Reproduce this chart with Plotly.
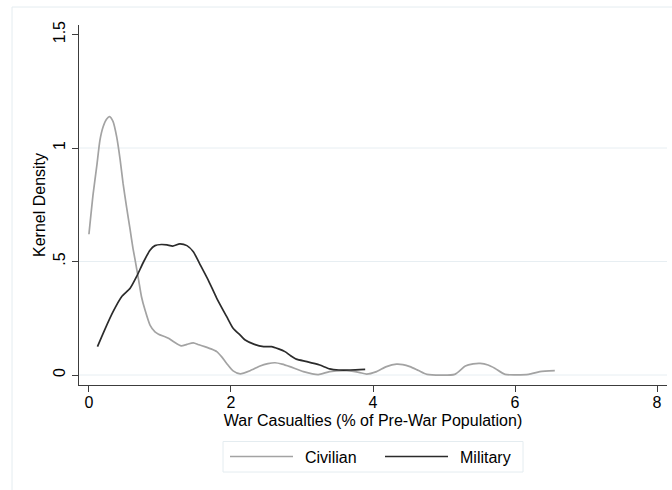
import plotly.graph_objects as go

# Kernel density estimates of war casualties (% of pre-war population)
civilian_x = [0.00, 0.06, 0.11, 0.155, 0.20, 0.25, 0.29, 0.34, 0.39, 0.44, 0.48, 0.53,
              0.58, 0.62, 0.65, 0.70, 0.74, 0.79, 0.86, 0.93, 0.98, 1.12, 1.20, 1.30,
              1.38, 1.47, 1.55, 1.63, 1.72, 1.80, 1.87, 1.94, 2.03, 2.13, 2.27, 2.41,
              2.52, 2.62, 2.72, 2.83, 3.02, 3.23, 3.39, 3.63, 3.80, 3.91, 4.05, 4.19,
              4.33, 4.42, 4.52, 4.64, 4.76, 5.15, 5.30, 5.41, 5.51, 5.62, 5.72, 5.86,
              6.19, 6.35, 6.56]
civilian_y = [0.62, 0.80, 0.92, 1.035, 1.094, 1.128, 1.138, 1.116, 1.05, 0.947, 0.845, 0.74,
              0.64, 0.558, 0.507, 0.418, 0.345, 0.286, 0.22, 0.19, 0.18, 0.162, 0.145, 0.128,
              0.135, 0.142, 0.133, 0.125, 0.115, 0.103, 0.08, 0.051, 0.018, 0.005, 0.019, 0.040,
              0.050, 0.054, 0.048, 0.037, 0.015, 0.002, 0.015, 0.019, 0.012, 0.004, 0.015, 0.037,
              0.048, 0.046, 0.037, 0.02, 0.003, 0.003, 0.040, 0.049, 0.051, 0.044, 0.029, 0.003,
              0.003, 0.015, 0.019]

military_x = [0.12, 0.22, 0.34, 0.46, 0.58, 0.67, 0.77, 0.86, 0.93, 1.02, 1.10, 1.18,
              1.28, 1.38, 1.47, 1.56, 1.68, 1.80, 1.94, 2.03, 2.13, 2.20, 2.33, 2.46,
              2.57, 2.67, 2.76, 2.84, 2.92, 3.07, 3.25, 3.39, 3.52, 3.68, 3.89]
military_y = [0.125, 0.198, 0.279, 0.345, 0.382, 0.433, 0.499, 0.55, 0.57, 0.575, 0.573, 0.568,
              0.578, 0.570, 0.543, 0.49, 0.418, 0.338, 0.257, 0.206, 0.176, 0.154, 0.135, 0.125,
              0.125, 0.115, 0.103, 0.085, 0.070, 0.059, 0.044, 0.027, 0.022, 0.022, 0.025]

x_ticks = [0, 2, 4, 6, 8]
y_ticks = [0, 0.5, 1, 1.5]
y_tick_text = ["0", ".5", "1", "1.5"]
series_names = ["Civilian", "Military"]

FONT = "Liberation Sans, Arial, Helvetica, sans-serif"
FS = 16
CIV_COLOR = "#a3a3a3"
MIL_COLOR = "#2b2b2b"
GRID = "#e7eef2"
AXIS = "#3c3c3c"

fig = go.Figure()
fig.add_trace(go.Scatter(x=civilian_x, y=civilian_y, mode="lines", name=series_names[0],
                         line=dict(color=CIV_COLOR, width=1.7, shape="spline", smoothing=0.6),
                         showlegend=False))
fig.add_trace(go.Scatter(x=military_x, y=military_y, mode="lines", name=series_names[1],
                         line=dict(color=MIL_COLOR, width=1.7, shape="spline", smoothing=0.6),
                         showlegend=False))

shapes = []
# horizontal grid lines (none at the top tick)
for gy in y_ticks[:-1]:
    shapes.append(dict(type="line", xref="paper", yref="y", x0=0, x1=1, y0=gy, y1=gy,
                       line=dict(color=GRID, width=1), layer="below"))

# outer graph-region frame (top and left edges)
W, H = 672, 490
L, R, T, B = 79, 5, 25, 105
pw, ph = W - L - R, H - T - B


def px(x):
    return (x - L) / pw


def py(y):
    return (H - B - y) / ph


shapes.append(dict(type="line", xref="paper", yref="paper", x0=px(12), x1=px(W + 5),
                   y0=py(7), y1=py(7), line=dict(color="#e4ecf0", width=1)))
shapes.append(dict(type="line", xref="paper", yref="paper", x0=px(12), x1=px(12),
                   y0=py(7), y1=py(H + 5), line=dict(color="#e4ecf0", width=1)))

# legend box with line samples
shapes.append(dict(type="rect", xref="paper", yref="paper", x0=px(223), x1=px(523),
                   y0=py(441.5), y1=py(472), line=dict(color="#e4ecf0", width=1),
                   fillcolor="white"))
shapes.append(dict(type="line", xref="paper", yref="paper", x0=px(230), x1=px(293),
                   y0=py(456.5), y1=py(456.5), line=dict(color=CIV_COLOR, width=1.7)))
shapes.append(dict(type="line", xref="paper", yref="paper", x0=px(385), x1=px(448),
                   y0=py(456.5), y1=py(456.5), line=dict(color=MIL_COLOR, width=1.7)))

annotations = [
    dict(xref="paper", yref="paper", x=px(303), y=py(457), text=series_names[0],
         showarrow=False, xanchor="left", yanchor="middle",
         font=dict(family=FONT, size=FS, color="black")),
    dict(xref="paper", yref="paper", x=px(458), y=py(457), text=series_names[1],
         showarrow=False, xanchor="left", yanchor="middle",
         font=dict(family=FONT, size=FS, color="black")),
]

fig.update_layout(
    width=W, height=H,
    margin=dict(l=L, r=R, t=T, b=B, pad=0),
    paper_bgcolor="white", plot_bgcolor="white",
    font=dict(family=FONT, size=FS, color="black"),
    shapes=shapes, annotations=annotations,
    showlegend=False,
    xaxis=dict(range=[-0.14, 8.14], tickvals=x_ticks, ticktext=[str(t) for t in x_ticks],
               showgrid=False, zeroline=False, showline=True, linecolor=AXIS, linewidth=1.3,
               ticks="outside", ticklen=6, tickwidth=1.2, tickcolor=AXIS,
               ticklabelstandoff=-3,
               title=dict(text="War Casualties (% of Pre-War Population)", standoff=4,
                          font=dict(family=FONT, size=FS))),
    yaxis=dict(range=[-0.044, 1.542], tickvals=y_ticks, ticktext=y_tick_text,
               tickangle=-90, showgrid=False, zeroline=False, showline=True,
               linecolor=AXIS, linewidth=1.3, ticks="outside", ticklen=6, tickwidth=1.2,
               tickcolor=AXIS,
               title=dict(text="Kernel Density", standoff=1, font=dict(family=FONT, size=FS))),
)

fig.write_html("out.html")
